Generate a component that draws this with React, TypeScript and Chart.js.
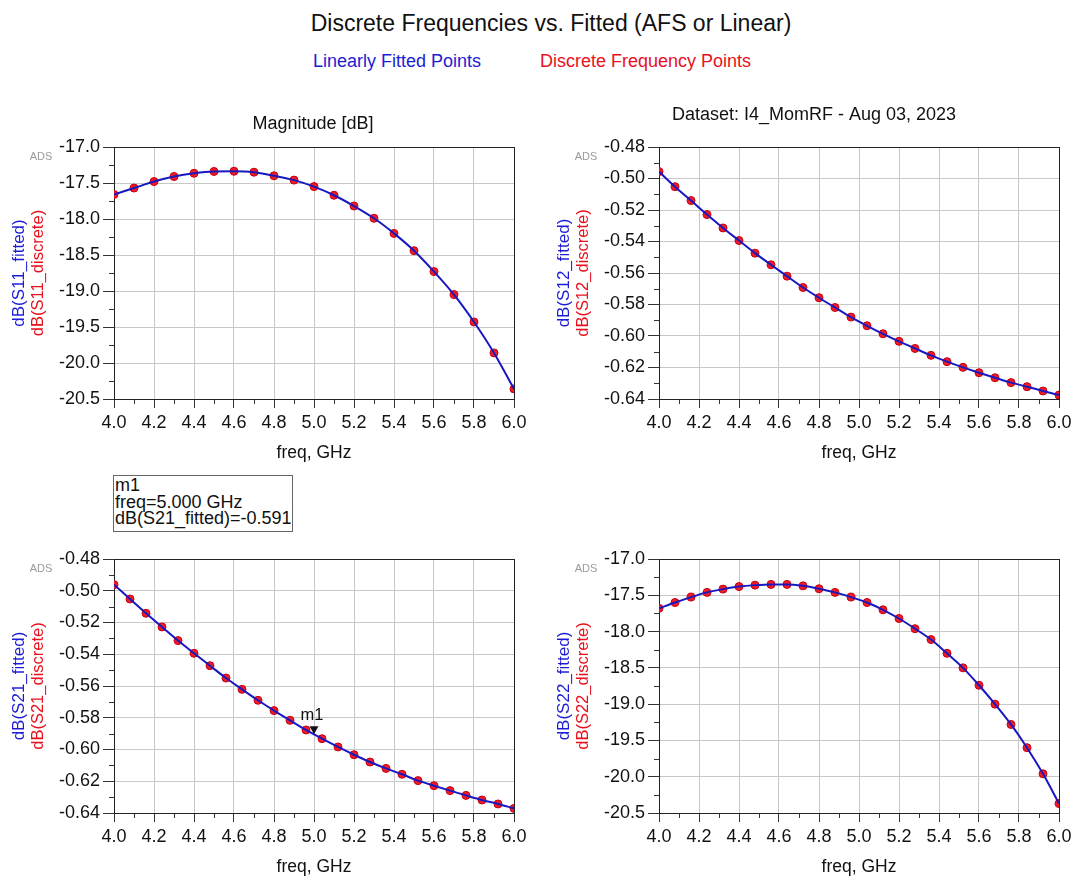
import React, { useEffect, useRef } from "react";
import { Chart, registerables } from "chart.js";

Chart.register(...registerables);

const FONT = '"Liberation Sans", Arial, sans-serif';
Chart.defaults.font.family = FONT;

// ---- Data ----
const FREQ_S11 = [4.0, 4.1, 4.2, 4.3, 4.4, 4.5, 4.6, 4.7, 4.8, 4.9, 5.0, 5.1, 5.2, 5.3, 5.4, 5.5, 5.6, 5.7, 5.8, 5.9, 6.0];
const S11_DB = [-17.66, -17.57, -17.48, -17.41, -17.365, -17.34, -17.337, -17.35, -17.4, -17.46, -17.55, -17.67, -17.82, -17.99, -18.2, -18.44, -18.73, -19.05, -19.43, -19.86, -20.36];

const FREQ_S = [4.0, 4.08, 4.16, 4.24, 4.32, 4.4, 4.48, 4.56, 4.64, 4.72, 4.8, 4.88, 4.96, 5.04, 5.12, 5.2, 5.28, 5.36, 5.44, 5.52, 5.6, 5.68, 5.76, 5.84, 5.92, 6.0];
const S12_DB = [-0.4956, -0.5052, -0.514, -0.5229, -0.5314, -0.5394, -0.5474, -0.5548, -0.562, -0.5692, -0.5757, -0.5819, -0.588, -0.5935, -0.5986, -0.6034, -0.6079, -0.6123, -0.6163, -0.6199, -0.6233, -0.6265, -0.6296, -0.6322, -0.6349, -0.6375];
const S21_DB = [-0.4962, -0.5052, -0.5142, -0.5228, -0.5314, -0.5394, -0.5472, -0.555, -0.5621, -0.569, -0.5755, -0.5816, -0.5877, -0.5932, -0.5984, -0.6033, -0.6079, -0.6119, -0.6156, -0.6196, -0.6228, -0.6259, -0.6289, -0.6318, -0.6343, -0.6371];
const S22_DB = [-17.68, -17.6, -17.525, -17.46, -17.415, -17.38, -17.36, -17.35, -17.35, -17.37, -17.41, -17.46, -17.525, -17.6, -17.7, -17.82, -17.96, -18.11, -18.3, -18.5, -18.74, -19.0, -19.28, -19.6, -19.96, -20.37];

const MARKER_FREQ = 5.0;
const MARKER_VALUE = -0.591;

const BLUE = "#1c1cd6";
const LINE_BLUE = "#1818c0";
const RED = "#e8101c";

type PlotCfg = {
  left: number; top: number; w: number; h: number;
  area: { l: number; t: number; r: number; b: number };
  xs: number[]; ys: number[];
  yMin: number; yMax: number; yStep: number; yDec: number;
  title?: string; titleX?: number; titleY?: number;
  yFit: string; yDisc: string;
  marker?: boolean;
};

const PLOTS: PlotCfg[] = [
  {
    left: 0, top: 100, w: 540, h: 370,
    area: { l: 114, t: 147, r: 514, b: 399 },
    xs: FREQ_S11, ys: S11_DB, yMin: -20.5, yMax: -17.0, yStep: 0.5, yDec: 1,
    title: "Magnitude [dB]", titleX: 313, titleY: 124,
    yFit: "dB(S11_fitted)", yDisc: "dB(S11_discrete)",
  },
  {
    left: 540, top: 100, w: 537, h: 370,
    area: { l: 659, t: 147, r: 1059, b: 399 },
    xs: FREQ_S, ys: S12_DB, yMin: -0.64, yMax: -0.48, yStep: 0.02, yDec: 2,
    title: "Dataset: I4_MomRF - Aug 03, 2023", titleX: 814, titleY: 115,
    yFit: "dB(S12_fitted)", yDisc: "dB(S12_discrete)",
  },
  {
    left: 0, top: 470, w: 540, h: 406,
    area: { l: 114, t: 559, r: 514, b: 813 },
    xs: FREQ_S, ys: S21_DB, yMin: -0.64, yMax: -0.48, yStep: 0.02, yDec: 2,
    yFit: "dB(S21_fitted)", yDisc: "dB(S21_discrete)",
    marker: true,
  },
  {
    left: 540, top: 470, w: 537, h: 406,
    area: { l: 659, t: 559, r: 1059, b: 813 },
    xs: FREQ_S, ys: S22_DB, yMin: -20.5, yMax: -17.0, yStep: 0.5, yDec: 1,
    yFit: "dB(S22_fitted)", yDisc: "dB(S22_discrete)",
  },
];

function makeOverlay(p: PlotCfg) {
  const ox = p.left, oy = p.top;
  return {
    id: "overlay",
    beforeDatasetsDraw(chart: any) {
      const ctx = chart.ctx;
      const { left, right, top, bottom } = chart.chartArea;
      const xs = chart.scales.x, ys = chart.scales.y;
      ctx.save();
      ctx.strokeStyle = "#333";
      ctx.lineWidth = 1;
      for (let v = 4.1; v < 6.0; v += 0.2) {
        const px = Math.round(xs.getPixelForValue(v)) + 0.5;
        ctx.beginPath();
        ctx.moveTo(px, bottom);
        ctx.lineTo(px, bottom + 5);
        ctx.stroke();
      }
      const n = Math.round((p.yMax - p.yMin) / p.yStep);
      for (let i = 0; i < n; i++) {
        const v = p.yMin + (i + 0.5) * p.yStep;
        const py = Math.round(ys.getPixelForValue(v)) + 0.5;
        ctx.beginPath();
        ctx.moveTo(left, py);
        ctx.lineTo(left - 5, py);
        ctx.stroke();
      }
      ctx.strokeStyle = "#222";
      ctx.strokeRect(left + 0.5, top + 0.5, right - left, bottom - top);
      ctx.restore();
    },
    afterDraw(chart: any) {
      const ctx = chart.ctx;
      const a = p.area;
      ctx.save();
      ctx.textAlign = "center";
      ctx.textBaseline = "middle";
      if (p.title) {
        ctx.fillStyle = "#111";
        ctx.font = `18px ${FONT}`;
        ctx.fillText(p.title, (p.titleX as number) - ox, (p.titleY as number) - oy);
      }
      ctx.fillStyle = "#111";
      ctx.font = `17.5px ${FONT}`;
      ctx.fillText("freq, GHz", (a.l + a.r) / 2 - ox, a.b + 54 - oy);
      ctx.fillStyle = "#9a9a9a";
      ctx.font = `11px ${FONT}`;
      ctx.fillText("ADS", a.l - 73 - ox, a.t + 10 - oy);
      const cy = (a.t + a.b) / 2 - oy;
      ctx.font = `17px ${FONT}`;
      ctx.save();
      ctx.translate(a.l - 95 - ox, cy);
      ctx.rotate(-Math.PI / 2);
      ctx.fillStyle = BLUE;
      ctx.fillText(p.yFit, 0, 0);
      ctx.restore();
      ctx.save();
      ctx.translate(a.l - 76 - ox, cy);
      ctx.rotate(-Math.PI / 2);
      ctx.fillStyle = RED;
      ctx.font = `16.5px ${FONT}`;
      ctx.fillText(p.yDisc, 0, 0);
      ctx.restore();
      if (p.marker) {
        const mx = chart.scales.x.getPixelForValue(MARKER_FREQ);
        const my = chart.scales.y.getPixelForValue(MARKER_VALUE);
        ctx.fillStyle = "#111";
        ctx.beginPath();
        ctx.moveTo(mx, my - 1);
        ctx.lineTo(mx - 4.5, my - 9);
        ctx.lineTo(mx + 4.5, my - 9);
        ctx.closePath();
        ctx.fill();
        ctx.font = `16.5px ${FONT}`;
        ctx.fillText("m1", mx - 2, my - 20);
      }
      ctx.restore();
    },
  };
}

function Plot({ p }: { p: PlotCfg }) {
  const ref = useRef<HTMLCanvasElement | null>(null);
  useEffect(() => {
    if (!ref.current) return;
    const pts = p.xs.map((x, i) => ({ x, y: p.ys[i] }));
    const chart = new Chart(ref.current, {
      type: "line",
      data: {
        datasets: [
          {
            label: "fitted",
            data: pts,
            borderColor: LINE_BLUE,
            borderWidth: 2,
            pointRadius: 0,
            cubicInterpolationMode: "monotone",
            fill: false,
            order: 1,
          },
          {
            label: "discrete",
            data: pts,
            showLine: false,
            pointRadius: 4,
            pointBackgroundColor: "#ee1c24",
            pointBorderColor: "#c80010",
            pointBorderWidth: 1,
            order: 2,
          },
        ],
      } as any,
      options: {
        animation: false,
        responsive: false,
        events: [],
        layout: {
          padding: {
            left: 0,
            top: p.area.t - p.top,
            right: p.left + p.w - p.area.r,
            bottom: 0,
          },
        },
        plugins: { legend: { display: false }, tooltip: { enabled: false }, title: { display: false } },
        scales: {
          x: {
            type: "linear",
            min: 4,
            max: 6,
            afterFit: (s: any) => { s.height = p.top + p.h - p.area.b; },
            ticks: {
              stepSize: 0.2,
              color: "#111",
              padding: 4,
              maxRotation: 0,
              font: { size: 18 },
              callback: (v: any) => Number(v).toFixed(1),
            },
            grid: { color: "#c8c8c8", drawTicks: true, tickLength: 9, tickColor: "#333", lineWidth: 1 },
            border: { display: false },
          },
          y: {
            type: "linear",
            min: p.yMin,
            max: p.yMax,
            afterFit: (s: any) => { s.width = p.area.l - p.left; },
            ticks: {
              stepSize: p.yStep,
              color: "#111",
              padding: 3,
              font: { size: 18 },
              callback: (v: any) => Number(v).toFixed(p.yDec),
            },
            grid: { color: "#c8c8c8", drawTicks: true, tickLength: 11, tickColor: "#333", lineWidth: 1 },
            border: { display: false },
          },
        },
      } as any,
      plugins: [makeOverlay(p)],
    });
    return () => chart.destroy();
  }, [p]);
  return (
    <canvas
      ref={ref}
      width={p.w}
      height={p.h}
      style={{ position: "absolute", left: p.left, top: p.top, width: p.w, height: p.h }}
    />
  );
}

export default function App() {
  return (
    <div style={{ position: "absolute", left: 0, top: 0, width: 1077, height: 876, background: "#fff", fontFamily: FONT, overflow: "hidden" }}>
      <div style={{ position: "absolute", left: 551, top: 10, transform: "translateX(-50%)", fontSize: 23, lineHeight: "26px", whiteSpace: "nowrap", color: "#111" }}>
        Discrete Frequencies vs. Fitted (AFS or Linear)
      </div>
      <div style={{ position: "absolute", left: 313, top: 51, fontSize: 18, lineHeight: "21px", whiteSpace: "nowrap", color: BLUE }}>
        Linearly Fitted Points
      </div>
      <div style={{ position: "absolute", left: 540, top: 51, fontSize: 18, lineHeight: "21px", whiteSpace: "nowrap", color: RED }}>
        Discrete Frequency Points
      </div>
      {PLOTS.map((p, i) => (
        <Plot key={i} p={p} />
      ))}
      <div
        style={{
          position: "absolute", left: 113, top: 475, width: 180, height: 57, boxSizing: "border-box",
          border: "1px solid #666", padding: "1px 0 0 1px", fontSize: 18, lineHeight: "16.7px", color: "#111", whiteSpace: "nowrap", background: "#fff",
        }}
      >
        <div>m1</div>
        <div>freq=5.000 GHz</div>
        <div>dB(S21_fitted)=-0.591</div>
      </div>
    </div>
  );
}
